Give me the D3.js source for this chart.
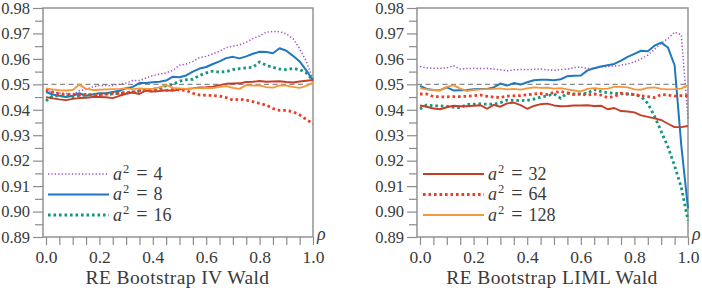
<!DOCTYPE html>
<html>
<head>
<meta charset="utf-8">
<script src="https://cdn.jsdelivr.net/npm/d3@7"></script>
<style>
  body { margin: 0; background: #fff; }
  svg { display: block; }
  text { font-family: "Liberation Serif", "DejaVu Serif", serif; }
</style>
</head>
<body>
<div id="chart-wrapper"></div>
<script>
//////////////////////////////////////////////////////////
/////////////////////// Constants ///////////////////////
//////////////////////////////////////////////////////////

const width = 702;
const height = 292;

const frameColour = "#8c8c8c";
const textColour = "#3a3a3a";
const fontFamily = "Liberation Serif, DejaVu Serif, serif";

// x grid of the simulations
const rho = [0, 0.025, 0.05, 0.075, 0.1, 0.125, 0.15, 0.175, 0.2, 0.225,
  0.25, 0.275, 0.3, 0.325, 0.35, 0.375, 0.4, 0.425, 0.45, 0.475,
  0.5, 0.525, 0.55, 0.575, 0.6, 0.625, 0.65, 0.675, 0.7, 0.725,
  0.75, 0.775, 0.8, 0.825, 0.85, 0.875, 0.9, 0.925, 0.95, 0.975, 1.0];

// tick values
const xTicks = [0, 0.05, 0.1, 0.15, 0.2, 0.25, 0.3, 0.35, 0.4, 0.45, 0.5,
  0.55, 0.6, 0.65, 0.7, 0.75, 0.8, 0.85, 0.9, 0.95, 1.0];
const xLabelTicks = [0, 0.2, 0.4, 0.6, 0.8, 1.0];
const yTicks = [0.89, 0.90, 0.91, 0.92, 0.93, 0.94, 0.95, 0.96, 0.97, 0.98];
const yMinorTicks = [0.895, 0.905, 0.915, 0.925, 0.935, 0.945, 0.955, 0.965, 0.975];
const nominal = 0.95;

// panel titles
const panelTitles = ["RE Bootstrap IV Wald", "RE Bootstrap LIML Wald"];

// a^2 values of the series
const aSquared = [4, 8, 16, 32, 64, 128];

// coverage, left panel (IV Wald)
const ivA4 = [0.9475, 0.947, 0.9465, 0.9465, 0.946, 0.9475, 0.948, 0.949, 0.9495, 0.9495,
  0.9495, 0.950, 0.9505, 0.9515, 0.9515, 0.9525, 0.9535, 0.954, 0.9545, 0.9555,
  0.9575, 0.958, 0.959, 0.9605, 0.961, 0.962, 0.963, 0.9645, 0.965, 0.9655,
  0.9665, 0.968, 0.969, 0.9705, 0.9708, 0.9707, 0.9698, 0.968, 0.964, 0.959, 0.952];
const ivA8 = [0.947, 0.946, 0.9455, 0.945, 0.9455, 0.9465, 0.9455, 0.946, 0.9465, 0.9465,
  0.947, 0.9475, 0.9485, 0.949, 0.9505, 0.9505, 0.9508, 0.951, 0.9515, 0.953,
  0.9528, 0.9535, 0.955, 0.9562, 0.9568, 0.958, 0.959, 0.9603, 0.9608, 0.9602,
  0.961, 0.962, 0.9628, 0.9627, 0.9622, 0.9642, 0.9632, 0.9612, 0.959, 0.9555, 0.9515];
const ivA16 = [0.9435, 0.9455, 0.9455, 0.9455, 0.945, 0.9455, 0.9458, 0.946, 0.946, 0.9462,
  0.9462, 0.9465, 0.9465, 0.947, 0.9473, 0.9478, 0.948, 0.9485, 0.9495, 0.950,
  0.9512, 0.9518, 0.952, 0.9535, 0.9545, 0.9552, 0.9548, 0.955, 0.9558, 0.9562,
  0.9565, 0.9567, 0.9588, 0.9575, 0.9567, 0.956, 0.9558, 0.9562, 0.9558, 0.9545, 0.9515];
const ivA32 = [0.9449, 0.9445, 0.9441, 0.9438, 0.9443, 0.9446, 0.9447, 0.945, 0.945, 0.9449,
  0.9446, 0.9455, 0.9463, 0.9468, 0.9462, 0.9476, 0.9472, 0.9474, 0.9477, 0.9475,
  0.948, 0.9482, 0.9484, 0.9488, 0.9489, 0.9491, 0.9497, 0.9502, 0.9503, 0.9504,
  0.9509, 0.951, 0.9513, 0.951, 0.9511, 0.9512, 0.9509, 0.9507, 0.9511, 0.9514, 0.9517];
const ivA64 = [0.9478, 0.947, 0.9462, 0.946, 0.9462, 0.9458, 0.946, 0.9458, 0.946, 0.9462,
  0.9465, 0.9465, 0.9468, 0.9468, 0.9475, 0.9476, 0.9472, 0.9478, 0.9476, 0.948,
  0.9478, 0.9476, 0.9465, 0.9458, 0.9457, 0.9456, 0.9454, 0.9448, 0.9438, 0.9442,
  0.9438, 0.9432, 0.9425, 0.9418, 0.9405, 0.9398, 0.9398, 0.9392, 0.938, 0.9362, 0.9345];
const ivA128 = [0.9484, 0.948, 0.9477, 0.9476, 0.9478, 0.9499, 0.9482, 0.9478, 0.9479, 0.948,
  0.9481, 0.9482, 0.9484, 0.9481, 0.9484, 0.9482, 0.9483, 0.9488, 0.9498, 0.9486,
  0.9484, 0.9482, 0.9484, 0.9485, 0.9486, 0.9485, 0.949, 0.9493, 0.9486, 0.9482,
  0.9497, 0.9495, 0.9496, 0.9489, 0.9487, 0.9496, 0.9495, 0.949, 0.9486, 0.9494, 0.9507];

// coverage, right panel (LIML Wald)
const limlA4 = [0.957, 0.9565, 0.9563, 0.9563, 0.9565, 0.9573, 0.956, 0.9562, 0.9563, 0.9562,
  0.9563, 0.956, 0.9557, 0.9553, 0.9557, 0.9558, 0.9558, 0.9559, 0.956, 0.9557,
  0.9555, 0.9558, 0.956, 0.9566, 0.9568, 0.9562, 0.9563, 0.9568, 0.957, 0.9572,
  0.9575, 0.958, 0.9588, 0.960, 0.9615, 0.9638, 0.9662, 0.968, 0.9705, 0.9695, 0.9365];
const limlA8 = [0.9494, 0.9482, 0.9478, 0.9477, 0.9488, 0.9476, 0.9477, 0.9478, 0.9481, 0.9482,
  0.9482, 0.9488, 0.9503, 0.9495, 0.9505, 0.9499, 0.9508, 0.9516, 0.9518, 0.9518,
  0.9516, 0.952, 0.9532, 0.9534, 0.9535, 0.9555, 0.9563, 0.957, 0.9575, 0.958,
  0.9593, 0.9608, 0.962, 0.9632, 0.963, 0.9652, 0.9664, 0.9645, 0.9575, 0.926, 0.9012];
const limlA16 = [0.9403, 0.9419, 0.9416, 0.9415, 0.9413, 0.941, 0.9408, 0.9421, 0.9422, 0.9423,
  0.9422, 0.9422, 0.9428, 0.9438, 0.9437, 0.9436, 0.9437, 0.9442, 0.945, 0.9455,
  0.9462, 0.9445, 0.9466, 0.9462, 0.9463, 0.9465, 0.948, 0.9472, 0.9467, 0.9465,
  0.9463, 0.9462, 0.946, 0.9452, 0.9425, 0.9375, 0.9315, 0.9255, 0.918, 0.9095, 0.8965];
const limlA32 = [0.9417, 0.9412, 0.9405, 0.9402, 0.941, 0.9416, 0.9414, 0.9414, 0.9416, 0.9418,
  0.9404, 0.9419, 0.9412, 0.9425, 0.9428, 0.9418, 0.9404, 0.9415, 0.9422, 0.9424,
  0.9417, 0.9414, 0.9415, 0.9417, 0.9417, 0.9418, 0.9415, 0.9416, 0.9402, 0.9407,
  0.9395, 0.9393, 0.939, 0.9378, 0.9372, 0.9366, 0.936, 0.9345, 0.9332, 0.9332, 0.9336];
const limlA64 = [0.9462, 0.9462, 0.9452, 0.9451, 0.9451, 0.9452, 0.9452, 0.9453, 0.9455, 0.9458,
  0.9453, 0.945, 0.9448, 0.9454, 0.9455, 0.9456, 0.9459, 0.9462, 0.9464, 0.946,
  0.9468, 0.9472, 0.9465, 0.946, 0.9462, 0.9458, 0.9462, 0.9458, 0.9448, 0.9452,
  0.9465, 0.9462, 0.946, 0.9455, 0.9452, 0.9448, 0.946, 0.9458, 0.9454, 0.9456, 0.9455];
const limlA128 = [0.9485, 0.948, 0.9478, 0.9476, 0.949, 0.9497, 0.9483, 0.9474, 0.9478, 0.948,
  0.9481, 0.9482, 0.9484, 0.948, 0.9482, 0.9479, 0.9484, 0.9488, 0.9486, 0.9487,
  0.9483, 0.9485, 0.948, 0.9476, 0.9472, 0.9482, 0.9485, 0.9482, 0.9483, 0.949,
  0.949, 0.9488, 0.948, 0.9479, 0.9486, 0.9488, 0.9482, 0.948, 0.9481, 0.9483, 0.9497];

// line styles per a^2 (same order as aSquared)
const seriesStyles = [
  {colour: "#a14fc4", width: 1.5, dash: "1.3,2.1"},
  {colour: "#1f77c0", width: 2, dash: null},
  {colour: "#12977a", width: 2.8, dash: "2.6,2.9"},
  {colour: "#c33f27", width: 1.9, dash: null},
  {colour: "#ea3c26", width: 2.8, dash: "2.6,2.9"},
  {colour: "#f5973b", width: 1.9, dash: null}
];

// panel placement
const yTop = 8;
const yBottom = 237;
const panels = [
  {axisX: 43, left: 46, right: 313, series: [ivA4, ivA8, ivA16, ivA32, ivA64, ivA128], legend: [0, 1, 2], legendX: 48},
  {axisX: 417, left: 420, right: 688, series: [limlA4, limlA8, limlA16, limlA32, limlA64, limlA128], legend: [3, 4, 5], legendX: 423}
];
const legendRows = [174, 194.5, 215];

/// SVG ///
const svg = d3.select("#chart-wrapper")
  .append("svg")
    .attr("width", width)
    .attr("height", height)

const yScale = d3.scaleLinear()
  .domain([0.89, 0.98])
  .range([yBottom, yTop])

const drawPanel = (p, idx) => {
  const g = svg.append("g")

  const xScale = d3.scaleLinear()
    .domain([0, 1])
    .range([p.left, p.right])

  // y axis, major and minor ticks
  g.append("g")
    .attr("transform", `translate(${p.axisX}, 0)`)
    .call(d3.axisLeft(yScale).tickValues(yTicks).tickFormat(d3.format(".2f")).tickSize(10).tickPadding(3))
    .attr("font-family", fontFamily)
    .attr("font-size", 16.5)
    .call(g => g.select(".domain").remove())
    .call(g => g.selectAll(".tick line").attr("stroke", frameColour).attr("stroke-width", 1.2))
    .call(g => g.selectAll(".tick text").attr("fill", textColour))
  g.append("g")
    .attr("transform", `translate(${p.axisX}, 0)`)
    .call(d3.axisLeft(yScale).tickValues(yMinorTicks).tickFormat("").tickSize(8))
    .call(g => g.select(".domain").remove())
    .call(g => g.selectAll(".tick line").attr("stroke", frameColour).attr("stroke-width", 1.2))

  // x axis, labels only every 0.2
  g.append("g")
    .attr("transform", `translate(0, ${yBottom})`)
    .call(d3.axisBottom(xScale).tickValues(xTicks).tickSize(8).tickPadding(6)
      .tickFormat(d => xLabelTicks.some(v => Math.abs(v - d) < 1e-9) ? d.toFixed(1) : ""))
    .attr("font-family", fontFamily)
    .attr("font-size", 17.5)
    .call(g => g.select(".domain").remove())
    .call(g => g.selectAll(".tick line").attr("stroke", frameColour).attr("stroke-width", 1.2))
    .call(g => g.selectAll(".tick text").attr("fill", textColour))

  // frame
  g.append("rect")
    .attr("x", p.axisX)
    .attr("y", yTop)
    .attr("width", p.right - p.axisX)
    .attr("height", yBottom - yTop)
    .attr("fill", "none")
    .attr("stroke", frameColour)
    .attr("stroke-width", 1.4)

  // nominal level
  g.append("line")
    .attr("x1", p.axisX)
    .attr("x2", p.right)
    .attr("y1", yScale(nominal))
    .attr("y2", yScale(nominal))
    .attr("stroke", "#8a8a8a")
    .attr("stroke-width", 1.2)
    .attr("stroke-dasharray", "5,3.5")

  // coverage lines
  const line = d3.line()
    .x((d, i) => xScale(rho[i]))
    .y(d => yScale(d))

  g.selectAll(".coverage-line")
    .data(p.series)
    .join("path")
      .classed("coverage-line", true)
      .attr("fill", "none")
      .attr("stroke", (d, i) => seriesStyles[i].colour)
      .attr("stroke-width", (d, i) => seriesStyles[i].width)
      .attr("stroke-dasharray", (d, i) => seriesStyles[i].dash)
      .attr("stroke-linejoin", "round")
      .attr("d", line)

  // legend
  const legend = g.selectAll(".legend-row")
    .data(p.legend)
    .join("g")
      .classed("legend-row", true)
      .attr("transform", (d, i) => `translate(${p.legendX}, ${legendRows[i]})`)
  legend.append("line")
    .attr("x1", 0)
    .attr("x2", 61)
    .attr("stroke", d => seriesStyles[d].colour)
    .attr("stroke-width", d => seriesStyles[d].width)
    .attr("stroke-dasharray", d => seriesStyles[d].dash)
  const label = legend.append("text")
    .attr("x", 65)
    .attr("y", 5.5)
    .attr("fill", textColour)
    .attr("font-size", 18)
  label.append("tspan").attr("font-style", "italic").text("a")
  label.append("tspan").attr("font-size", 12.5).attr("dy", -7).attr("dx", 1).text("2")
  label.append("tspan").attr("dy", 7).attr("dx", 7).attr("font-size", 20).text("=")
  label.append("tspan").attr("dx", 6).text(d => aSquared[d])

  // rho label
  g.append("text")
    .attr("x", p.right + 4)
    .attr("y", yBottom + 3)
    .attr("fill", textColour)
    .attr("font-size", 18)
    .attr("font-style", "italic")
    .text("ρ")

  // panel title
  g.append("text")
    .attr("x", (p.left + p.right) / 2 - 2)
    .attr("y", 284)
    .attr("text-anchor", "middle")
    .attr("fill", textColour)
    .attr("font-size", 19.5)
    .attr("letter-spacing", 0.4)
    .text(panelTitles[idx])
}

panels.forEach(drawPanel)
</script>
</body>
</html>
